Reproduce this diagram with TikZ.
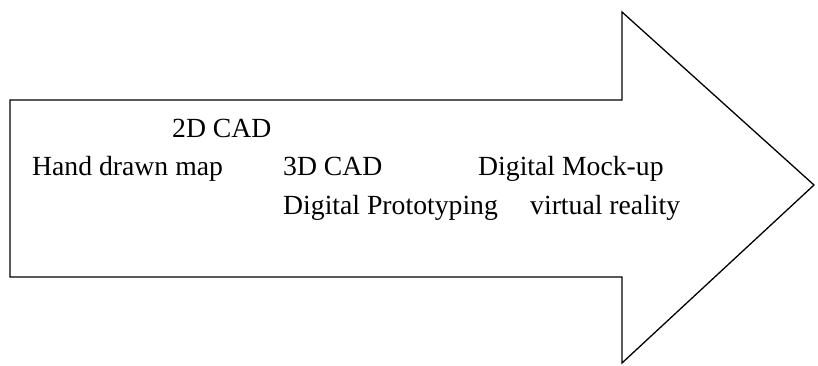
\documentclass[tikz,border=0pt]{standalone}
\usepackage{fontspec}
\setmainfont{Liberation Serif}
\usetikzlibrary{positioning}
\tikzset{
x=1pt, y=-1pt, % pixel-like units, y grows downward
bigarrow/.style={draw=black, line width=1.3pt, line join=miter}, % the outline of the arrow
stage/.style={anchor=base west, inner sep=0pt, font=\fontsize{27.7}{33}\selectfont}, % the text of each stage
}

\begin{document}
\begin{tikzpicture}
        \useasboundingbox (0,0) rectangle (818,365);
        \coordinate (tl) at (10,100);
        \coordinate (bl) at (10,277);
        \coordinate (nt) at (622,100);
        \coordinate (nb) at (622,277);
        \coordinate (ht) at (622,12);
        \coordinate (hb) at (622,363);
        \coordinate (tip) at (814,185);
        \draw[bigarrow] (tl) -- (nt) -- (ht) -- (tip) -- (hb) -- (nb) -- (bl) -- cycle;
        \node[stage] (cad2) at (172,137) {2D CAD};
        \node[stage] (hand) at (32,175) {Hand drawn map};
        \node[stage] (cad3) at (283,175) {3D CAD};
        \node[stage] (mock) at (478,175) {Digital Mock-up};
        \node[stage] (proto) at (283,214) {Digital Prototyping};
        \node[stage] (vr) at (530,214) {virtual reality};
    \end{tikzpicture}
\end{document}
